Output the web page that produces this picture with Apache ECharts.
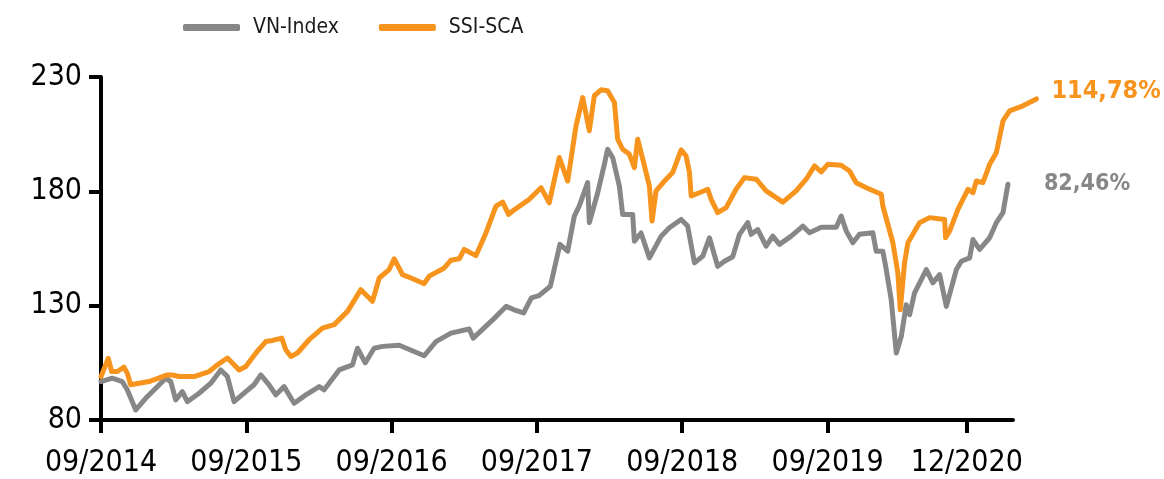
<!DOCTYPE html>
<html>
<head>
<meta charset="utf-8">
<script src="https://cdn.jsdelivr.net/npm/echarts@6/dist/echarts.min.js"></script>
<style>
  html, body { margin: 0; padding: 0; background: #fff; }
  #chart { width: 1164px; height: 479px; }
</style>
</head>
<body>
<div id="chart"></div>
<script>
// x = months since 09/2014
const tickMonths = [0, 12, 24, 36, 48, 60, 71.5];
const tickLabels = ['09/2014', '09/2015', '09/2016', '09/2017', '09/2018', '09/2019', '12/2020'];
const seriesNames = ['VN-Index', 'SSI-SCA'];
const returns = ['82,46%', '114,78%'];

const vnMonths = [0, 0.93, 1.76, 2.17, 2.87, 3.69, 4.52, 5.35, 5.76, 6.17, 6.72, 7.13, 8.10, 9.07, 9.89, 10.44,
  10.99, 11.96, 12.64, 13.20, 13.88, 14.44, 15.12, 15.95, 16.92, 18.02, 18.43, 18.84, 19.67, 20.77, 21.18, 21.82,
  22.56, 23.25, 24.63, 26.69, 27.66, 28.90, 30.41, 30.74, 32.37, 33.47, 34.11, 34.90, 35.54, 36.17, 37.11, 37.90,
  38.54, 39.09, 39.50, 40.19, 40.33, 41.02, 41.57, 41.84, 42.26, 42.81, 43.08, 43.91, 44.05, 44.60, 45.29, 46.26,
  46.94, 47.91, 48.45, 49.01, 49.69, 50.25, 50.93, 51.49, 52.17, 52.73, 53.41, 53.69, 54.24, 54.93, 55.48, 56.03,
  57.00, 57.96, 58.51, 59.48, 60.72, 61.13, 61.55, 62.09, 62.64, 63.74, 64.02, 64.57, 64.85, 65.26, 65.68, 66.09,
  66.50, 66.78, 67.19, 68.16, 68.70, 69.26, 69.81, 70.64, 71.05, 71.74, 72.01, 72.56, 73.39, 73.94, 74.49, 74.90];
const vnValues = [96.8, 98.3, 96.8, 93.2, 84.4, 89.5, 93.9, 98.3, 96.8, 88.8, 92.4, 88.0, 91.7, 96.1, 101.9, 99.0,
  88.0, 92.4, 95.4, 99.7, 95.4, 91.0, 94.6, 87.3, 91.0, 94.6, 93.2, 96.1, 101.9, 104.1, 111.4, 105.0,
  111.4, 112.2, 112.7, 108.1, 114.3, 118.0, 119.8, 115.8, 123.9, 129.7, 128.2, 126.8, 133.4, 134.4, 138.5, 156.8,
  153.8, 169.2, 173.6, 183.8, 166.3, 179.4, 191.8, 198.4, 194.7, 182.3, 169.9, 169.9, 158.2, 161.8, 150.9, 160.4,
  164.1, 167.7, 164.8, 148.7, 151.6, 159.7, 147.2, 149.4, 151.4, 161.2, 166.3, 161.2, 163.3, 156.0, 160.4, 156.8,
  160.4, 164.8, 161.9, 164.3, 164.3, 169.2, 162.6, 157.5, 161.2, 161.9, 153.8, 153.8, 145.8, 132.6, 109.3, 116.5,
  130.4, 126.1, 135.6, 145.8, 140.0, 143.6, 129.7, 145.8, 149.4, 150.9, 158.9, 154.6, 159.7, 166.3, 170.7, 183.1];

const ssiMonths = [0, 0.60, 0.88, 1.35, 1.90, 2.17, 2.45, 3.97, 5.48, 5.89, 6.45, 7.69, 8.93, 9.61, 10.44, 10.85,
  11.40, 11.96, 12.79, 13.61, 14.16, 14.93, 15.26, 15.68, 16.22, 17.19, 18.29, 19.26, 20.36, 21.46, 22.42, 22.98,
  23.80, 24.21, 24.90, 25.60, 26.69, 27.11, 28.35, 28.90, 29.59, 30.00, 30.97, 31.79, 32.62, 33.17, 33.66, 33.99,
  35.37, 36.34, 37.02, 37.85, 38.54, 39.23, 39.78, 40.33, 40.74, 41.30, 41.84, 42.40, 42.67, 43.08, 43.64, 44.05,
  44.32, 44.88, 45.29, 45.51, 45.84, 46.53, 47.21, 47.91, 48.32, 48.60, 48.74, 49.42, 50.11, 50.39, 50.93, 51.63,
  52.45, 53.14, 54.11, 54.93, 56.31, 57.41, 58.24, 58.93, 59.48, 60.02, 61.13, 61.82, 62.37, 63.20, 64.44, 64.57,
  65.40, 65.81, 66.01, 66.36, 66.64, 67.60, 68.43, 69.67, 69.75, 70.08, 70.77, 71.60, 72.01, 72.29, 72.83, 73.39,
  73.94, 74.49, 75.04, 76.14, 77.25];
const ssiValues = [99.0, 107.0, 101.2, 101.2, 103.1, 100.5, 95.4, 96.8, 99.7, 99.7, 99.0, 99.0, 101.2, 104.1, 107.1, 104.9,
  101.9, 103.4, 109.3, 114.3, 114.8, 115.8, 110.7, 107.8, 109.3, 115.1, 120.2, 121.7, 127.5, 137.0, 131.9, 142.1,
  145.8, 150.5, 143.6, 142.1, 139.6, 142.9, 146.5, 149.9, 150.5, 154.6, 151.9, 161.8, 173.5, 175.3, 169.9, 171.4,
  176.5, 181.6, 175.0, 194.8, 184.5, 208.6, 221.0, 206.5, 221.8, 224.4, 224.0, 218.9, 202.8, 198.4, 196.2, 190.4,
  202.8, 191.1, 182.3, 167.0, 180.2, 184.5, 188.2, 198.1, 195.5, 188.2, 178.0, 179.4, 180.9, 176.5, 170.7, 172.9,
  180.9, 186.0, 185.3, 180.2, 175.3, 180.2, 185.3, 191.1, 188.5, 191.8, 191.4, 188.9, 183.8, 181.6, 178.7, 173.6,
  157.5, 144.3, 128.2, 148.7, 157.5, 166.3, 168.5, 167.7, 159.7, 162.6, 172.1, 180.9, 179.4, 184.5, 183.8, 191.8,
  196.9, 210.8, 215.2, 217.4, 220.4];

const colors = ['#878787', '#f7941d'];
const font = "'Liberation Sans Narrow', 'DejaVu Sans Condensed', 'Arial Narrow', sans-serif";

const zip = (xs, ys) => xs.map((x, i) => [x, ys[i]]);

const chart = echarts.init(document.getElementById('chart'));
const option = {
  animation: false,
  color: colors,
  legend: {
    top: 17,
    left: 183,
    padding: 0,
    itemWidth: 57,
    itemHeight: 7,
    itemGap: 40,
    icon: 'roundRect',
    textStyle: { fontFamily: font, fontSize: 21, color: '#1a1a1a', padding: [0, 0, 0, 8] },
    data: seriesNames
  },
  // grid 0 holds the data (its x range runs past the drawn axis line, the SSI-SCA line ends there)
  // grid 1 only draws the shorter x axis line
  grid: [
    { left: 101, right: 127, top: 77, bottom: 59 },
    { left: 101, right: 151, top: 77, bottom: 59 }
  ],
  xAxis: [
    {
      type: 'value',
      min: 0,
      max: 77.3,
      splitLine: { show: false },
      axisLine: { show: false },
      axisTick: { show: true, length: 13, customValues: tickMonths, lineStyle: { color: '#000', width: 4 } },
      axisLabel: {
        customValues: tickMonths,
        margin: 28,
        fontFamily: font,
        fontSize: 30,
        color: '#000',
        formatter: v => tickLabels[tickMonths.indexOf(v)] || ''
      }
    },
    {
      type: 'value',
      gridIndex: 1,
      min: 0,
      max: 1,
      splitLine: { show: false },
      axisLine: { show: true, onZero: false, lineStyle: { color: '#000', width: 4 } },
      axisTick: { show: false },
      axisLabel: { show: false }
    }
  ],
  yAxis: [
    {
      type: 'value',
      min: 80,
      max: 230,
      interval: 50,
      splitLine: { show: false },
      axisLine: { show: true, lineStyle: { color: '#000', width: 4 } },
      axisTick: { show: true, length: 12, lineStyle: { color: '#000', width: 4 } },
      axisLabel: { margin: 19, fontFamily: font, fontSize: 30, color: '#000' }
    },
    { type: 'value', gridIndex: 1, min: 0, max: 1, show: false }
  ],
  series: [
    {
      name: seriesNames[0],
      type: 'line',
      showSymbol: false,
      clip: false,
      lineStyle: { width: 5, join: 'round', cap: 'round' },
      endLabel: {
        show: true, formatter: returns[0], offset: [28, 0],
        fontFamily: font, fontSize: 23, fontWeight: 'bold', color: colors[0]
      },
      data: zip(vnMonths, vnValues)
    },
    {
      name: seriesNames[1],
      type: 'line',
      showSymbol: false,
      clip: false,
      lineStyle: { width: 5, join: 'round', cap: 'round' },
      endLabel: {
        show: true, formatter: returns[1], offset: [7, -7],
        fontFamily: font, fontSize: 25, fontWeight: 'bold', color: colors[1]
      },
      data: zip(ssiMonths, ssiValues)
    }
  ]
};
chart.setOption(option);
</script>
</body>
</html>
